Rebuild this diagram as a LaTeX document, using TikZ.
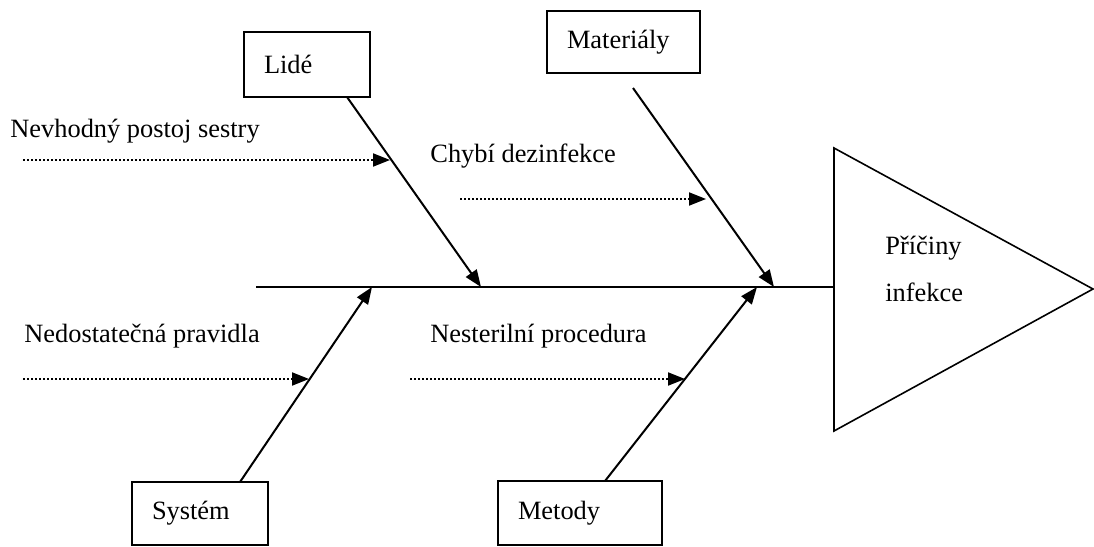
\documentclass[tikz,border=0pt]{standalone}
\usepackage{fontspec}
\setmainfont{Liberation Serif}
\usetikzlibrary{arrows.meta}
\begin{document}
\begin{tikzpicture}[x=0.5pt,y=-0.5pt,
  every node/.style={font=\fontsize{13.2}{15}\selectfont},
  catbox/.style={draw,line width=0.9pt,inner xsep=10pt,inner ysep=0pt,
    align=left,anchor=center},
  bone/.style={line width=1pt,-{Triangle[length=8.5pt,width=6.5pt]}},
  cause/.style={line width=1pt,dash pattern=on 1pt off 1pt,
    -{Triangle[length=8.5pt,width=6.5pt]}},
  lbl/.style={anchor=base west,inner sep=0pt}]
\useasboundingbox (0,0) rectangle (1094,547);

% category boxes
\node[catbox,minimum width=63pt,minimum height=32.5pt,text width=43pt] (lide) at (307,64.5) {Lidé};
\node[catbox,minimum width=76.5pt,minimum height=31pt,text width=56.5pt] (mat) at (623.5,42) {Materiály};
\node[catbox,minimum width=68pt,minimum height=31.5pt,text width=48pt] (sys) at (200,513.5) {Systém};
\node[catbox,minimum width=82pt,minimum height=32pt,text width=62pt] (met) at (580,513) {Metody};

% head of the fish
\coordinate (headTop) at (834,148);
\coordinate (headTip) at (1093,289);
\coordinate (headBot) at (834,431);
\draw[line width=0.8pt] (headTop) -- (headTip) -- (headBot) -- cycle;
\node[lbl] (head1) at (885,254) {Příčiny};
\node[lbl] (head2) at (885,301) {infekce};

% spine
\coordinate (tail) at (256,287);
\coordinate (neck) at (834,287);
\draw[line width=1pt] (tail) -- (neck);

% bones
\coordinate (lideFoot) at (347,97);
\coordinate (lideEnd) at (481,287);
\coordinate (matFoot) at (633,88);
\coordinate (matEnd) at (774,287);
\coordinate (sysFoot) at (240,482);
\coordinate (sysEnd) at (372,287);
\coordinate (metFoot) at (605,481);
\coordinate (metEnd) at (757,287);
\draw[bone] (lideFoot) -- (lideEnd);
\draw[bone] (matFoot) -- (matEnd);
\draw[bone] (sysFoot) -- (sysEnd);
\draw[bone] (metFoot) -- (metEnd);

% sub-causes
\node[lbl] (c1) at (10,137) {Nevhodný postoj sestry};
\node[lbl] (c2) at (430,162) {Chybí dezinfekce};
\node[lbl] (c3) at (24,342) {Nedostatečná pravidla};
\node[lbl] (c4) at (430,342) {Nesterilní procedura};

\coordinate (c1s) at (23,160);  \coordinate (c1e) at (390,160);
\coordinate (c2s) at (460,199); \coordinate (c2e) at (706,199);
\coordinate (c3s) at (23,379);  \coordinate (c3e) at (309,379);
\coordinate (c4s) at (410,379); \coordinate (c4e) at (685,379);
\draw[cause] (c1s) -- (c1e);
\draw[cause] (c2s) -- (c2e);
\draw[cause] (c3s) -- (c3e);
\draw[cause] (c4s) -- (c4e);
\end{tikzpicture}
\end{document}
